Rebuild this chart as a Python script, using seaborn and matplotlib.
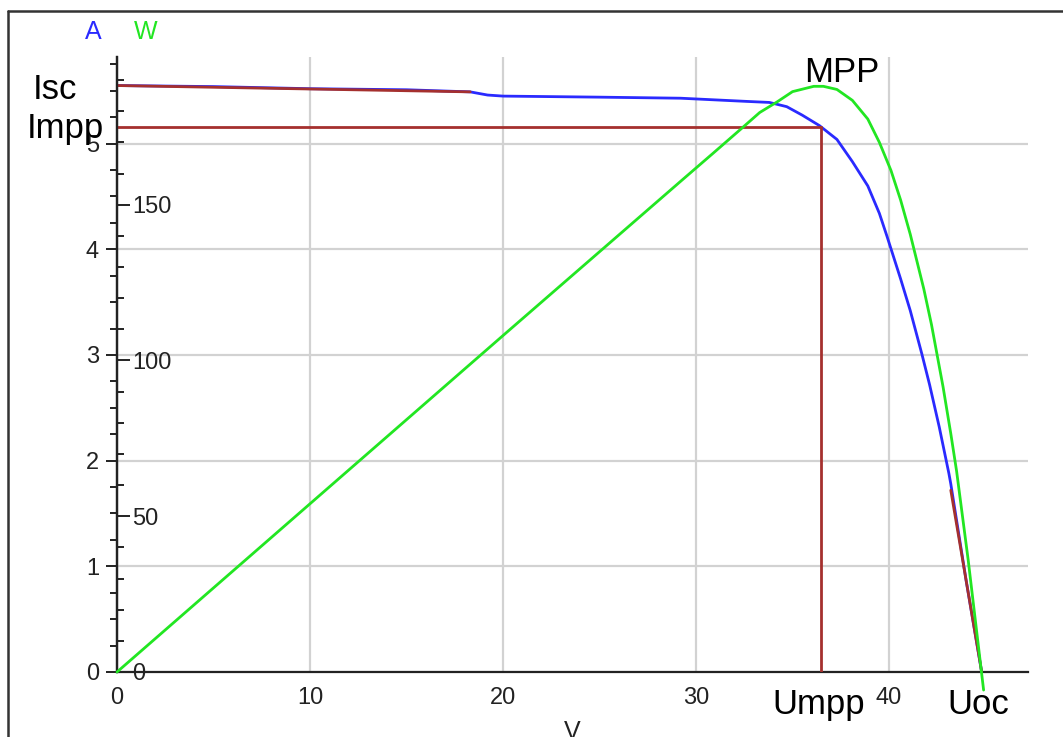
import numpy as np
import pandas as pd
import matplotlib
matplotlib.use("Agg")
import matplotlib.pyplot as plt
from matplotlib.lines import Line2D
from matplotlib.ticker import MultipleLocator
import seaborn as sns

# I-V curve (current, A)
volts_iv = [0, 5, 10, 15, 18.3, 19.2, 20, 25, 29.2, 32.6, 33.8, 34.7, 35.5, 36.4,
            37.3, 38.1, 38.9, 39.5, 39.9, 40.6, 41.1, 41.7, 42.1, 42.6, 43.1,
            43.2, 44.0, 44.8]
amps = [5.55, 5.54, 5.52, 5.51, 5.49, 5.46, 5.45, 5.44, 5.43, 5.40, 5.39, 5.35,
        5.27, 5.17, 5.04, 4.83, 4.60, 4.34, 4.12, 3.72, 3.42, 3.01, 2.72, 2.32,
        1.88, 1.78, 0.86, 0.0]

# P-V curve (power, W)
volts_pv = [0, 10, 20, 29.2, 30.9, 32.4, 33.3, 34.2, 35.0, 36.1, 36.6, 37.3,
            38.1, 38.9, 39.5, 40.1, 40.6, 41.1, 41.8, 42.2, 42.5, 42.8, 43.2,
            43.5, 44.1, 44.9]
watts = [0, 54, 108, 157.5, 166.6, 174.7, 179.6, 183, 186.3, 188, 188, 187,
         183.5, 177.5, 170, 161, 151.5, 140.5, 123, 111.5, 101.5, 91.5, 76.5,
         64.5, 36, -5.8]

# maximum power point and tangents
v_mpp = 36.5
i_mpp = 5.16
tangent_isc_v = [0, 18.3]
tangent_isc_i = [5.55, 5.49]
tangent_uoc_v = [43.2, 44.8]
tangent_uoc_i = [1.72, 0.0]

x_max = 47.2
a_max = 5.82
w_per_a = 33.92

sns.set_theme(style="white")
plt.rcParams["font.family"] = ["Liberation Sans", "DejaVu Sans"]

blue = "#2a2aff"
green = "#22e622"
red = "#a5302e"
grid_col = "#d2d2d2"
ink = "#222222"

fig = plt.figure(figsize=(10.63, 7.37), dpi=100)
ax = fig.add_axes([117 / 1063, 1 - 672 / 737, (1028 - 117) / 1063, (672 - 57) / 737])
ax.set_xlim(0, x_max)
ax.set_ylim(0, a_max)

iv = pd.DataFrame({"V": volts_iv, "A": amps})
pv = pd.DataFrame({"V": volts_pv, "W": watts})

sns.lineplot(data=iv, x="V", y="A", ax=ax, color=blue, lw=2, sort=False,
             estimator=None, zorder=3)
ax.plot(tangent_isc_v, tangent_isc_i, color=red, lw=2, zorder=4)
ax.plot(tangent_uoc_v, tangent_uoc_i, color=red, lw=2, zorder=4)
ax.plot([0, v_mpp], [i_mpp, i_mpp], color=red, lw=2, zorder=4)
ax.plot([v_mpp, v_mpp], [0, i_mpp], color=red, lw=2, zorder=4)

ax.xaxis.set_major_locator(MultipleLocator(10))
ax.xaxis.set_minor_locator(MultipleLocator(2))
ax.yaxis.set_major_locator(MultipleLocator(1))
ax.yaxis.set_minor_locator(MultipleLocator(0.25))
ax.grid(True, which="major", color=grid_col, lw=1.6, zorder=0)
ax.set_axisbelow(True)
for s in ["top", "right"]:
    ax.spines[s].set_visible(False)
for s in ["left", "bottom"]:
    ax.spines[s].set_color(ink)
    ax.spines[s].set_linewidth(1.6)
ax.tick_params(which="major", direction="out", length=8, width=1.4,
               color=ink, labelsize=17, labelcolor=ink, pad=5)
ax.tick_params(which="minor", direction="out", length=5, width=1.4, color=ink)
ax.tick_params(axis="x", which="major", length=10, pad=1)
ax.set_xticks([0, 10, 20, 30, 40])
ax.set_yticks([0, 1, 2, 3, 4, 5])
ax.set_ylabel("")
ax.set_xlabel("V", fontsize=18, color=ink, labelpad=8)

# power axis on the same vertical line
ax2 = ax.twinx()
ax2.set_ylim(0, a_max * w_per_a)
sns.lineplot(data=pv, x="V", y="W", ax=ax2, color=green, lw=2, sort=False,
             estimator=None, zorder=5)
ax2.lines[-1].set_clip_on(False)
for s in ["top", "left", "bottom"]:
    ax2.spines[s].set_visible(False)
ax2.spines["right"].set_position(("axes", 0))
ax2.spines["right"].set_color(ink)
ax2.spines["right"].set_linewidth(1.6)
ax2.yaxis.set_major_locator(MultipleLocator(50))
ax2.yaxis.set_minor_locator(MultipleLocator(10))
ax2.set_yticks([0, 50, 100, 150])
ax2.tick_params(which="major", direction="out", length=9, width=1.4,
                color=ink, labelsize=17, labelcolor=ink, pad=2)
ax2.tick_params(which="minor", direction="out", length=5, width=1.4, color=ink)
ax2.set_ylabel("")
ax2.grid(False)
ax2.set_xlim(0, x_max)

# labels
big = 25
ax.text(-0.092, 5.426, "Isc", transform=ax.get_yaxis_transform(), fontsize=big,
        color="black", va="baseline", ha="left", clip_on=False)
ax.text(-0.099, 5.057, "Impp", transform=ax.get_yaxis_transform(), fontsize=big,
        color="black", va="baseline", ha="left", clip_on=False)
ax.text(37.56, 5.587, "MPP", fontsize=big, color="black", va="baseline", ha="center",
        clip_on=False)
ax.text(36.35, -0.0683, "Umpp", transform=ax.get_xaxis_transform(), fontsize=big,
        color="black", va="baseline", ha="center", clip_on=False)
ax.text(44.6, -0.0683, "Uoc", transform=ax.get_xaxis_transform(), fontsize=big,
        color="black", va="baseline", ha="center", clip_on=False)
fig.text(93.5 / 1063, 1 - 39 / 737, "A", color=blue, fontsize=18, ha="center", va="baseline")
fig.text(145.5 / 1063, 1 - 39 / 737, "W", color=green, fontsize=18, ha="center", va="baseline")

# window frame (left and top edges)
fig.add_artist(Line2D([8 / 1063, 8 / 1063], [0, 1 - 11 / 737], color="#333333", lw=1.8))
fig.add_artist(Line2D([8 / 1063, 1], [1 - 11 / 737, 1 - 11 / 737], color="#333333", lw=1.8))

fig.savefig("out.png", dpi=100, facecolor="white")
